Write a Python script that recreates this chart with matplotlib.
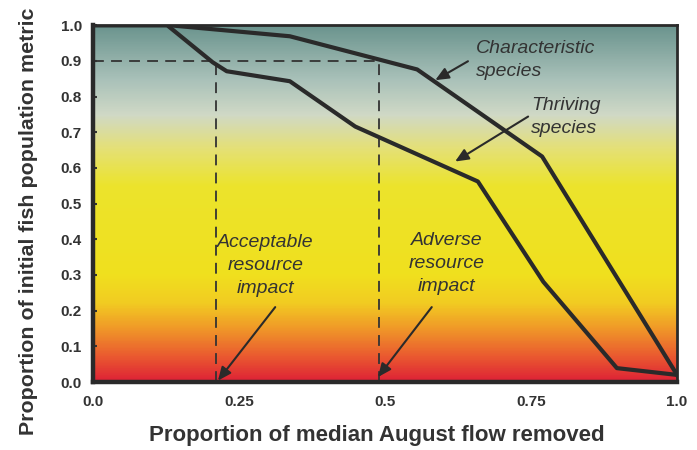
import numpy as np
import matplotlib
matplotlib.use("Agg")
import matplotlib.pyplot as plt
from matplotlib.colors import LinearSegmentedColormap

# data
char_x = [0.0, 0.13, 0.337, 0.555, 0.769, 1.0]
char_y = [1.0, 1.0, 0.969, 0.876, 0.632, 0.02]

thr_x = [0.0, 0.127, 0.205, 0.229, 0.337, 0.449, 0.659, 0.771, 0.897, 1.0]
thr_y = [1.0, 1.0, 0.896, 0.871, 0.843, 0.716, 0.562, 0.281, 0.039, 0.02]

threshold_y = 0.9
acceptable_x = 0.21
adverse_x = 0.49

xticks = [0.0, 0.25, 0.5, 0.75, 1.0]
xtick_labels = ["0.0", "0.25", "0.5", "0.75", "1.0"]
yticks = np.round(np.arange(0, 1.01, 0.1), 1)

# gradient stops (value, colour)
grad_stops = [
    (0.00, "#de2236"),
    (0.07, "#ea5a30"),
    (0.15, "#f09a28"),
    (0.22, "#f2cc22"),
    (0.30, "#f0e01e"),
    (0.55, "#ece42c"),
    (0.66, "#e4e07a"),
    (0.75, "#d0d9c6"),
    (0.85, "#a9c1b9"),
    (1.00, "#6b948e"),
]

plt.rcParams.update({
    "font.family": "Liberation Sans",
    "font.weight": "bold",
})
txt = "#333333"
line_c = "#2a2a2a"

fig = plt.figure(figsize=(6.97, 4.5), dpi=100)
ax = fig.add_axes([0.1334, 0.151, 0.838, 0.793])

cmap = LinearSegmentedColormap.from_list("bg", grad_stops)
grad = np.linspace(0, 1, 400).reshape(-1, 1)
ax.imshow(grad, extent=[0, 1, 0, 1], origin="lower", aspect="auto",
          cmap=cmap, zorder=0, interpolation="bilinear")

ax.plot(char_x, char_y, color=line_c, lw=3.0, zorder=3)
ax.plot(thr_x, thr_y, color=line_c, lw=3.0, zorder=3)

# threshold guide lines
dash = dict(color="#333333", lw=1.3, ls=(0, (6, 4)), zorder=2)
ax.plot([0, adverse_x], [threshold_y, threshold_y], **dash)
ax.plot([acceptable_x, acceptable_x], [0, threshold_y], **dash)
ax.plot([adverse_x, adverse_x], [0, threshold_y], **dash)

# annotations
ann = dict(fontsize=14, style="italic", color=txt, va="center",
           fontweight="normal", linespacing=1.45, zorder=5)
arr = dict(arrowstyle="-|>,head_length=0.8,head_width=0.35", color=line_c,
           lw=1.5, shrinkA=0, shrinkB=0)

def arrow(x0, y0, x1, y1):
    ax.annotate("", xy=(x1, y1), xytext=(x0, y0), arrowprops=arr, zorder=4)

ax.text(0.656, 0.903, "Characteristic\nspecies", ha="left", **ann)
arrow(0.642, 0.899, 0.586, 0.846)

ax.text(0.75, 0.743, "Thriving\nspecies", ha="left", **ann)
arrow(0.745, 0.744, 0.62, 0.618)

ax.text(0.295, 0.326, "Acceptable\nresource\nimpact", ha="center", **ann)
arrow(0.312, 0.21, 0.214, 0.004)

ax.text(0.606, 0.333, "Adverse\nresource\nimpact", ha="center", **ann)
arrow(0.58, 0.21, 0.488, 0.014)

ax.set_xlim(0, 1)
ax.set_ylim(0, 1)
ax.set_xticks(xticks)
ax.set_xticklabels(xtick_labels)
ax.set_yticks(yticks)
ax.set_yticklabels([f"{v:.1f}" for v in yticks])
ax.tick_params(axis="both", labelsize=11, colors=txt, direction="in", length=3,
               width=1.5, pad=8)
ax.tick_params(axis="x", length=0, pad=9)

for side in ["left", "bottom"]:
    ax.spines[side].set_linewidth(3.2)
    ax.spines[side].set_color(line_c)
for side in ["top", "right"]:
    ax.spines[side].set_linewidth(2.0)
    ax.spines[side].set_color(line_c)

ax.set_xlabel("Proportion of median August flow removed", fontsize=16,
              fontweight="bold", color=txt)
ax.set_ylabel("Proportion of initial fish population metric", fontsize=15.4,
              fontweight="bold", color=txt)
ax.xaxis.set_label_coords(0.486, -0.149)
ax.yaxis.set_label_coords(-0.11, 0.45)
ax.xaxis.label.set_va("center")
ax.yaxis.label.set_va("center")

fig.savefig("out.png", dpi=100)
